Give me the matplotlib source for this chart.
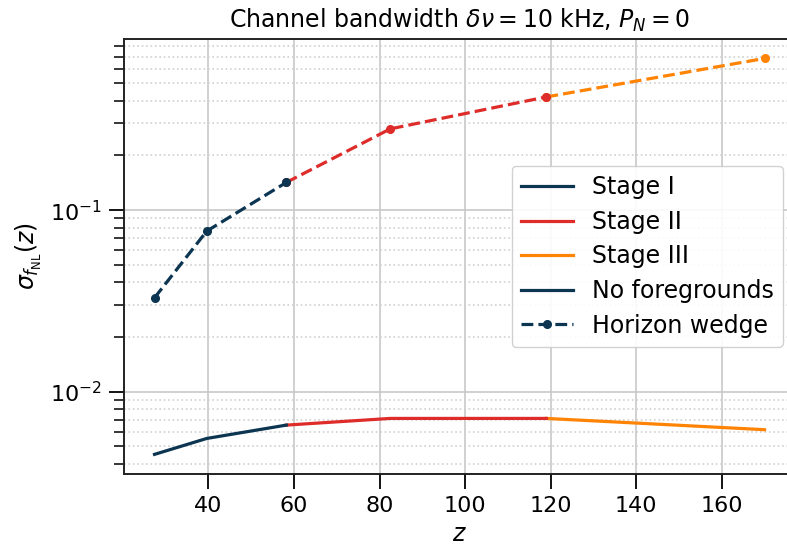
import numpy as np
import matplotlib
matplotlib.use('Agg')
import matplotlib.pyplot as plt

plt.rcParams['font.family'] = ['DejaVu Sans']

# redshift bins and forecasts
z = [27.4, 39.6, 58.2, 82.5, 119.0, 170.0]
sigma_nofg = [0.00452, 0.00553, 0.00655, 0.00713, 0.00713, 0.00618]
sigma_wedge = [0.0329, 0.0766, 0.142, 0.280, 0.420, 0.684]

# index ranges of each stage
stages = ['Stage I', 'Stage II', 'Stage III']
stage_idx = [(0, 3), (2, 5), (4, 6)]
colors = ['#0c3552', '#dd2c2a', '#ff8305']

fig = plt.figure(figsize=(7.87, 5.52), dpi=100)
ax = fig.add_axes([0.1576, 0.141, 0.8526, 0.789])

# draw later stages first so earlier markers sit on top
for name, (a, b), c in reversed(list(zip(stages, stage_idx, colors))):
    ax.plot(z[a:b], sigma_nofg[a:b], '-', color=c, lw=2.3)
    ax.plot(z[a:b], sigma_wedge[a:b], '--', color=c, lw=2.3, marker='o', ms=5.5)

ax.set_yscale('log')
ax.grid(True, which='major', color='#c8c8c8', lw=1.2)
ax.grid(True, which='minor', axis='y', color='#d0d0d0', ls=':', lw=1.2)
ax.tick_params(which='major', direction='out', length=11, width=1.3, labelsize=16, pad=5)
ax.tick_params(which='minor', direction='out', length=7, width=1.1)
for s in ax.spines.values():
    s.set_linewidth(1.4)
    s.set_color('#222222')

ax.set_xticks([40, 60, 80, 100, 120, 140, 160])
ax.set_xlabel('$z$', fontsize=17, labelpad=4)
ax.set_ylabel(r'$\sigma_{f_{\rm NL}}(z)$', fontsize=17)
ax.set_title(r'Channel bandwidth $\delta\nu = 10$ kHz, $P_N = 0$', fontsize=17, pad=8)

handles = [plt.Line2D([], [], color=c, lw=2.3) for c in colors]
handles.append(plt.Line2D([], [], color=colors[0], lw=2.3))
handles.append(plt.Line2D([], [], color=colors[0], lw=2.3, ls='--', marker='o', ms=5.5))
labels = stages + ['No foregrounds', 'Horizon wedge']
ax.legend(handles, labels, loc='center right', fontsize=17, framealpha=0.9,
          handlelength=2.2, labelspacing=0.45)

fig.savefig('out.png', dpi=100)
